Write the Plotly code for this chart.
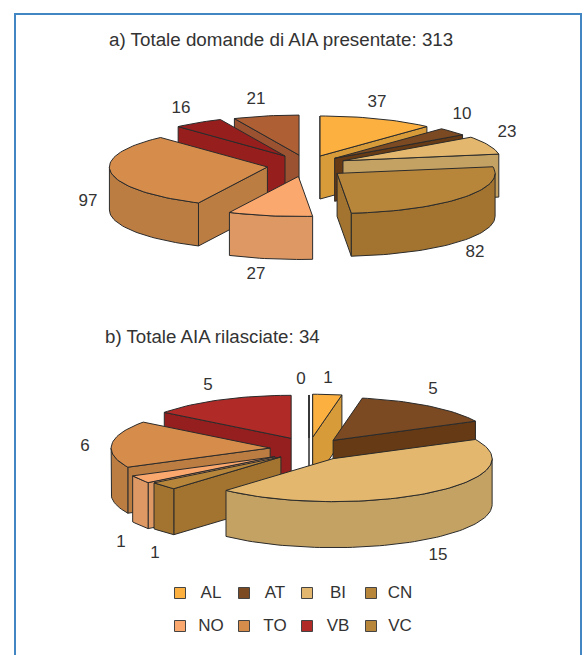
import math
import plotly.graph_objects as go

# Province codes and counts for both exploded pies
categories = ["AL", "AT", "BI", "CN", "NO", "TO", "VB", "VC"]
domande = [37, 10, 23, 82, 27, 97, 16, 21]
rilasciate = [1, 5, 15, 1, 1, 6, 5, 0]

title_a = "a) Totale domande di AIA presentate: 313"
title_b = "b) Totale AIA rilasciate: 34"

# Colours per slice: top face, side wall
top_a = ["#FBB040", "#7B4A22", "#E3B86E", "#B8863B", "#FBA86F", "#D68D4C", "#961F1E", "#AF5F34"]
wall_a = ["#D89B3A", "#663A14", "#C4A263", "#A3742F", "#DE9863", "#BC7D43", "#961F1E", "#9A5230"]
top_b = ["#FBB040", "#7B4A22", "#E3B86E", "#B8863B", "#FBA86F", "#D68D4C", "#B02A28", "#B8863B"]
wall_b = ["#D89B3A", "#663A14", "#C4A263", "#A3742F", "#DE9863", "#BC7D43", "#951F1E", "#A3742F"]

# Pie geometry, in page pixels
geom_a = dict(cx=307, cy=164.5, rx=158, ry=40, depth=43)
geom_b = dict(cx=309, cy=448, rx=159, ry=43, depth=46)
pull_a = [36, 37, 39, 38, 48, 40, 40, 38]
pull_b = [40, 40, 40, 38, 40, 39, 40, 37]
# Extra downward shift of individual slices
drop_a = [0, 0, 0, 3, 0, 1, 0, 0]
drop_b = [0, 1, 2, 2, 3, 1, 0, 0]

# Painter's order, back to front, as indices into categories
order_a = [7, 0, 1, 2, 6, 5, 3, 4]
order_b = [7, 6, 0, 1, 5, 4, 3, 2]

# Where each value label sits
label_pos_a = [(377, 103), (462, 115), (507, 133), (475, 253), (256, 275), (88, 202), (181, 109), (256, 100)]
label_pos_b = [(328, 379), (433, 390), (438, 556), (155, 554), (121, 543), (85, 447), (208, 386), (301, 380)]

EDGE = "#2B2B2B"
TEXT = "#333333"
FRAME = "#4287C4"
FONT = "Liberation Sans"

fig = go.Figure()


def poly(pts, fill):
    xs = [p[0] for p in pts] + [pts[0][0]]
    ys = [p[1] for p in pts] + [pts[0][1]]
    fig.add_trace(go.Scatter(x=xs, y=ys, mode="lines", fill="toself", fillcolor=fill,
                             line=dict(color=EDGE, width=1), hoverinfo="skip", showlegend=False))


def draw_pie(values, tops, walls, g, pulls, drops, order):
    total = sum(values)
    start = 0.0
    spans = []
    for v in values:
        end = start + v / total * 360.0
        spans.append((start, end))
        start = end
    for i in order:
        a, b = spans[i]
        mid = math.radians((a + b) / 2)
        ax = g["cx"] + pulls[i] * math.sin(mid)
        ay = g["cy"] - pulls[i] * g["ry"] / g["rx"] * math.cos(mid) + drops[i]
        d = g["depth"]

        def rim(deg):
            t = math.radians(deg)
            return (ax + g["rx"] * math.sin(t), ay - g["ry"] * math.cos(t))

        def arc(lo, hi):
            n = max(2, int((hi - lo) / 2) + 2)
            return [rim(lo + (hi - lo) * k / (n - 1)) for k in range(n)]

        # Radial walls that face the viewer
        if math.sin(math.radians(a)) <= 1e-9:
            r = rim(a)
            poly([(ax, ay), r, (r[0], r[1] + d), (ax, ay + d)], walls[i])
        if math.sin(math.radians(b)) > 1e-9:
            r = rim(b)
            poly([(ax, ay), r, (r[0], r[1] + d), (ax, ay + d)], walls[i])
        # Curved outer wall on the front half
        lo, hi = max(a, 90.0), min(b, 270.0)
        if hi > lo:
            top_edge = arc(lo, hi)
            poly(top_edge + [(x, y + d) for x, y in reversed(top_edge)], walls[i])
        # Top face
        poly([(ax, ay)] + arc(a, b), tops[i])


draw_pie(domande, top_a, wall_a, geom_a, pull_a, drop_a, order_a)
draw_pie(rilasciate, top_b, wall_b, geom_b, pull_b, drop_b, order_b)

# Value labels
for values, positions in ((domande, label_pos_a), (rilasciate, label_pos_b)):
    fig.add_trace(go.Scatter(x=[p[0] for p in positions], y=[p[1] for p in positions],
                             text=[str(v) for v in values], mode="text",
                             textfont=dict(family=FONT, size=17, color=TEXT),
                             hoverinfo="skip", showlegend=False))

# Titles
fig.add_annotation(x=107, y=39, text=title_a, showarrow=False, xanchor="left", yanchor="middle",
                   font=dict(family=FONT, size=18.8, color=TEXT))
fig.add_annotation(x=103, y=336, text=title_b, showarrow=False, xanchor="left", yanchor="middle",
                   font=dict(family=FONT, size=18.7, color=TEXT))

# Key, four columns by two rows
key_x = [180, 244, 307, 371]
key_label_x = [211, 275, 338, 400]
key_y = [593, 626]
for i, code in enumerate(categories):
    col, row = i % 4, i // 4
    fig.add_trace(go.Scatter(x=[key_x[col]], y=[key_y[row]], mode="markers",
                             marker=dict(symbol="square", size=11, color=top_b[i],
                                         line=dict(color="#444444", width=1)),
                             hoverinfo="skip", showlegend=False))
    fig.add_trace(go.Scatter(x=[key_label_x[col]], y=[key_y[row] + 1], mode="text", text=[code],
                             textfont=dict(family=FONT, size=17, color=TEXT),
                             hoverinfo="skip", showlegend=False))

# Open-bottomed frame around the figure
frame = [(15, 655), (15, 14), (581, 14), (581, 655)]
fig.add_trace(go.Scatter(x=[p[0] for p in frame], y=[p[1] for p in frame], mode="lines",
                         line=dict(color=FRAME, width=2), hoverinfo="skip", showlegend=False))

fig.update_layout(width=584, height=655, margin=dict(l=0, r=0, t=0, b=0),
                  paper_bgcolor="white", plot_bgcolor="white", showlegend=False,
                  xaxis=dict(range=[0, 584], visible=False, fixedrange=True),
                  yaxis=dict(range=[655, 0], visible=False, fixedrange=True))
fig.write_html("out.html", config=dict(displayModeBar=False))
